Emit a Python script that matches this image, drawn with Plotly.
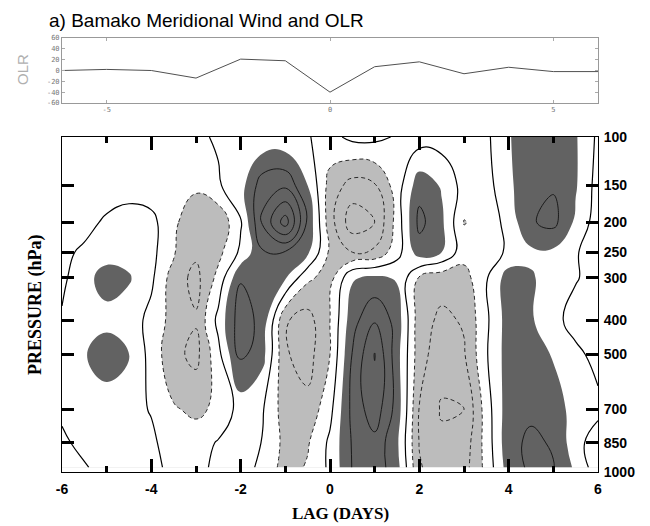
import plotly.graph_objects as go

# Lag axis (days) and pressure levels (hPa) of the composite grid
lags = [-6, -5.5, -5, -4.5, -4, -3.5, -3, -2.5, -2, -1.5, -1, -0.5, 0,
        0.5, 1, 1.5, 2, 2.5, 3, 3.5, 4, 4.5, 5, 5.5, 6]
levels_hpa = [100, 150, 200, 250, 300, 400, 500, 700, 850, 975]

# Composite meridional wind (m/s), one row per pressure level, columns follow `lags`
v100 = [-0.3, -0.3, -0.35, -0.4, -0.4, -0.35, -0.15, 0.1, 0.15, 0.2, 0.2, 0.05, -0.3,
        0.25, 0.25, -0.1, -0.5, -0.5, -0.5, -0.2, 0.9, 1.8, 1.9, 1.1, -0.2]
v150 = [-0.4, -0.5, -0.5, -0.5, -0.6, -0.7, -0.8, -0.1, 0.6, 2.6, 2.8, 1.0, -1.4,
        -2.4, -2.1, -0.5, 1.6, 0.9, -0.4, -0.4, 0.8, 1.7, 1.9, 1.1, -0.4]
v200 = [-0.3, -0.3, 0.15, 0.5, 0.3, -0.8, -1.7, -1.8, -0.1, 3.2, 5.5, 1.8, -1.6,
        -3.6, -3.0, -0.6, 2.3, 1.2, -1.04, -0.7, 0.4, 1.9, 2.3, 0.8, -0.5]
v250 = [-0.2, 0.15, 0.5, 0.6, 0.3, -0.9, -1.8, -1.3, 0.2, 1.9, 1.9, 1.2, -1.2,
        -2.0, -1.8, -0.4, 1.5, 1.0, -0.6, -0.6, 0.2, 0.8, 0.8, 0.1, -0.6]
v300 = [-0.2, 0.6, 1.5, 1.1, 0.2, -1.5, -2.3, -0.7, 1.9, 1.8, 1.1, -0.8, -1.4,
        0.9, 1.2, 0.9, -1.1, -1.6, -1.4, -0.1, 1.5, 1.1, 0.6, 0.1, -0.5]
v400 = [0.1, 0.6, 0.6, 0.5, -0.3, -1.4, -1.9, 0.3, 2.6, 1.6, -1.9, -2.4, -1.0,
        1.6, 2.9, 1.6, -1.6, -2.2, -1.9, -0.2, 1.5, 1.1, 0.4, -0.5, -0.4]
v500 = [0.3, 0.9, 1.7, 1.1, -0.4, -1.7, -2.3, -0.3, 2.3, 1.3, -1.9, -2.4, -1.0,
        2.05, 4.05, 1.4, -1.6, -2.6, -2.1, -0.1, 1.5, 1.7, 0.9, 0.3, -0.4]
v700 = [0.2, 0.35, 0.3, 0.25, -0.05, -0.9, -1.2, -0.8, 0.4, 0.05, -1.5, -1.7, -0.3,
        2.3, 3.6, 1.6, -2.05, -3.1, -3.05, -0.5, 1.6, 1.8, 1.5, 0.6, 0.3]
v850 = [-0.2, 0.3, 0.5, 0.5, 0.15, -0.4, -0.5, 0.1, 0.5, -0.05, -1.3, -1.1, 0.2,
        2.1, 2.7, 1.2, -2.05, -2.8, -2.6, -0.6, 1.7, 2.2, 1.9, 0.4, -0.6]
v975 = [-0.3, -0.1, 0.4, 0.4, 0.3, -0.3, -0.5, 0.4, 0.5, -0.3, -1.4, -0.9, 0.2,
        2.05, 2.6, 1.4, -1.9, -2.6, -2.4, -0.7, 1.5, 2.2, 2.05, 0.8, -0.6]
wind = [v100, v150, v200, v250, v300, v400, v500, v700, v850, v975]

# OLR anomaly (W/m2) at daily lags
olr_lags = [-6, -5, -4, -3, -2, -1, 0, 1, 2, 3, 4, 5, 6]
olr = [0, 2, 0, -14, 21, 18, -40, 7, 16, -6, 6, -2, -2]

# Axis labelling
lag_ticks = [-6, -4, -2, 0, 2, 4, 6]
pressure_ticks = [100, 150, 200, 250, 300, 400, 500, 700, 850, 1000]
olr_ticks = [-60, -40, -20, 0, 20, 40, 60]

LIGHT = "#bcbcbc"
DARK = "#626262"
KAPPA = 0.2  # vertical coordinate is p**0.2
SMOOTH = 1.3


def vcoord(p):
    return p ** KAPPA


ycoord = [vcoord(p) for p in levels_hpa]

# plot-area geometry (px) used for annotation placement
W, H = 650, 526
ML, MR, MT, MB = 62, 52, 38, 54
PW, PH = W - ML - MR, H - MT - MB


def px_x(x):
    return (x - ML) / PW


def px_y(y):
    return (H - MB - y) / PH


fig = go.Figure()

# shading: light grey below -1, dark grey above +1
fig.add_trace(go.Contour(
    x=lags, y=ycoord, z=wind, autocontour=False,
    contours=dict(start=-1, end=1, size=2, coloring="fill", showlines=False),
    colorscale=[[0, LIGHT], [0.5, LIGHT], [0.5, "white"], [0.875, "white"],
                [0.875, DARK], [1, DARK]],
    line=dict(width=0, smoothing=SMOOTH), showscale=False, hoverinfo="skip",
    xaxis="x", yaxis="y"))

# negative contours (dashed)
fig.add_trace(go.Contour(
    x=lags, y=ycoord, z=wind, autocontour=False,
    contours=dict(start=-4, end=-1, size=1, coloring="none"),
    line=dict(color="#2a2a2a", width=1, dash="4px,3px", smoothing=SMOOTH),
    showscale=False, hoverinfo="skip", xaxis="x", yaxis="y"))

# zero contour
fig.add_trace(go.Contour(
    x=lags, y=ycoord, z=wind, autocontour=False,
    contours=dict(start=0, end=0.5, size=1, coloring="none"),
    line=dict(color="black", width=1.2, smoothing=SMOOTH),
    showscale=False, hoverinfo="skip", xaxis="x", yaxis="y"))

# positive contours inside the dark shading
fig.add_trace(go.Contour(
    x=lags, y=ycoord, z=wind, autocontour=False,
    contours=dict(start=2, end=6, size=1, coloring="none"),
    line=dict(color="#1a1a1a", width=1, smoothing=SMOOTH),
    showscale=False, hoverinfo="skip", xaxis="x", yaxis="y"))

# OLR curve
fig.add_trace(go.Scatter(
    x=olr_lags, y=olr, mode="lines", line=dict(color="#505050", width=1),
    hoverinfo="skip", xaxis="x2", yaxis="y2"))

main_top = px_y(137)
olr_bottom = px_y(103)

fig.update_layout(
    width=W, height=H,
    margin=dict(l=ML, r=MR, t=MT, b=MB),
    paper_bgcolor="white", plot_bgcolor="white",
    showlegend=False,
    xaxis=dict(
        domain=[0, 1], anchor="y", range=[-6, 6],
        tickvals=lag_ticks, ticktext=[str(v) for v in lag_ticks],
        ticks="inside", ticklen=13, tickwidth=2.5, tickcolor="black",
        minor=dict(dtick=1, ticks="inside", ticklen=6, tickwidth=2.5, tickcolor="black"),
        showline=True, linecolor="black", linewidth=1, mirror="ticks",
        showgrid=False, zeroline=False, ticklabelstandoff=4,
        tickfont=dict(family="Liberation Sans", size=14, color="black", weight="bold"),
    ),
    yaxis=dict(
        domain=[0, main_top], anchor="x", side="right",
        range=[vcoord(1000), vcoord(100)],
        tickvals=[vcoord(p) for p in pressure_ticks],
        ticktext=[str(p) for p in pressure_ticks],
        ticks="inside", ticklen=12, tickwidth=2.5, tickcolor="black",
        showline=True, linecolor="black", linewidth=1, mirror="ticks",
        showgrid=False, zeroline=False, ticklabelstandoff=2,
        tickfont=dict(family="Liberation Sans", size=14, color="black", weight="bold"),
    ),
    xaxis2=dict(
        domain=[0, 1], anchor="y2", range=[-6, 6],
        tickvals=[-5, 0, 5], ticktext=["-5", "0", "5"],
        ticks="inside", ticklen=3, tickcolor="#aaaaaa",
        showline=True, linecolor="#999999", linewidth=1, mirror="ticks",
        showgrid=False, zeroline=False,
        tickfont=dict(family="DejaVu Sans Mono", size=7, color="#777777"),
    ),
    yaxis2=dict(
        domain=[olr_bottom, 1], anchor="x2", range=[-60, 60],
        tickvals=olr_ticks, ticktext=[str(v) for v in olr_ticks],
        ticks="inside", ticklen=3, tickcolor="#aaaaaa",
        showline=True, linecolor="#999999", linewidth=1, mirror="ticks",
        showgrid=False, zeroline=False,
        tickfont=dict(family="DejaVu Sans Mono", size=7, color="#777777"),
    ),
    annotations=[
        dict(text="a) Bamako Meridional Wind and OLR", xref="paper", yref="paper",
             x=px_x(47), y=px_y(20), xanchor="left", yanchor="middle", showarrow=False,
             font=dict(family="Liberation Sans", size=19, color="black")),
        dict(text="OLR", xref="paper", yref="paper", x=px_x(22), y=px_y(70),
             xanchor="center", yanchor="middle", showarrow=False, textangle=-90,
             font=dict(family="Liberation Sans", size=15, color="#b0b0b0")),
        dict(text="PRESSURE (hPa)", xref="paper", yref="paper", x=px_x(35), y=px_y(305),
             xanchor="center", yanchor="middle", showarrow=False, textangle=-90,
             font=dict(family="Liberation Serif", size=18, color="black", weight="bold")),
        dict(text="LAG (DAYS)", xref="paper", yref="paper", x=px_x(340), y=px_y(513),
             xanchor="center", yanchor="middle", showarrow=False,
             font=dict(family="Liberation Serif", size=17, color="black", weight="bold")),
    ],
)

fig.write_html("out.html")
